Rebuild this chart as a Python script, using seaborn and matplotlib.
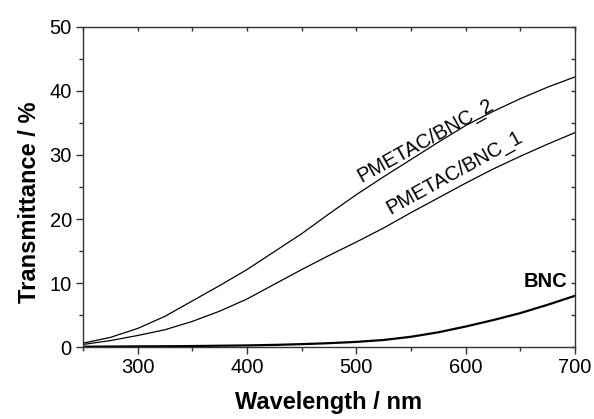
import numpy as np
import pandas as pd
import matplotlib
matplotlib.use("Agg")
import matplotlib.pyplot as plt
import seaborn as sns
from matplotlib.ticker import MultipleLocator

wavelength = [250, 275, 300, 325, 350, 375, 400, 425, 450, 475, 500,
              525, 550, 575, 600, 625, 650, 675, 700]
pmetac_bnc_2 = [0.6, 1.5, 2.9, 4.8, 7.2, 9.6, 12.1, 14.9, 17.7, 20.8, 23.8,
                26.6, 29.3, 32.0, 34.6, 36.8, 38.8, 40.6, 42.2]
pmetac_bnc_1 = [0.4, 1.0, 1.8, 2.7, 4.0, 5.6, 7.5, 9.8, 12.1, 14.3, 16.4,
                18.6, 21.0, 23.3, 25.6, 27.8, 29.8, 31.7, 33.5]
bnc = [0.05, 0.07, 0.1, 0.12, 0.15, 0.2, 0.25, 0.33, 0.45, 0.6, 0.8,
       1.1, 1.6, 2.3, 3.2, 4.2, 5.3, 6.6, 8.0]

sns.set_style("ticks")
plt.rcParams['font.family'] = ['Liberation Sans', 'DejaVu Sans']
plt.rcParams['text.color'] = 'black'
plt.rcParams['axes.labelcolor'] = 'black'
plt.rcParams['xtick.color'] = 'black'
plt.rcParams['ytick.color'] = 'black'

fig = plt.figure(figsize=(5.94, 4.19), dpi=100)
ax = fig.add_axes([0.1397, 0.1718, 0.968 - 0.1397, 0.9356 - 0.1718])

df = pd.DataFrame({"wl": wavelength, "s2": pmetac_bnc_2, "s1": pmetac_bnc_1, "bnc": bnc})
sns.lineplot(data=df, x="wl", y="s2", ax=ax, color="black", linewidth=0.9)
sns.lineplot(data=df, x="wl", y="s1", ax=ax, color="black", linewidth=0.9)
sns.lineplot(data=df, x="wl", y="bnc", ax=ax, color="black", linewidth=1.6)

ax.set_xlim(250, 700)
ax.set_ylim(0, 50)
ax.xaxis.set_major_locator(MultipleLocator(100))
ax.xaxis.set_minor_locator(MultipleLocator(50))
ax.yaxis.set_major_locator(MultipleLocator(10))
ax.yaxis.set_minor_locator(MultipleLocator(5))
ax.set_xticks([300, 400, 500, 600, 700])

for s in ax.spines.values():
    s.set_visible(True)
    s.set_linewidth(1.0)
    s.set_color("#333333")

ax.tick_params(which="major", direction="out", length=5, width=1, labelsize=14.5, colors="#333333", labelcolor="black", pad=3)
ax.tick_params(which="minor", direction="out", length=3, width=1, colors="#333333")

top = ax.secondary_xaxis("top")
top.xaxis.set_major_locator(MultipleLocator(50))
top.tick_params(direction="in", length=3, width=1, labeltop=False, colors="#333333")
right = ax.secondary_yaxis("right")
right.yaxis.set_major_locator(MultipleLocator(5))
right.tick_params(direction="in", length=3, width=1, labelright=False, colors="#333333")
for sp in top.spines.values():
    sp.set_visible(False)
for sp in right.spines.values():
    sp.set_visible(False)

ax.set_xlabel("Wavelength / nm", fontsize=17, fontweight="bold", labelpad=10)
ax.set_ylabel("Transmittance / %", fontsize=17, fontweight="bold", labelpad=6)
ax.yaxis.label.set_y(0.453)

ax.text(563, 32.3, "PMETAC/BNC_2", fontsize=14.5, rotation=29, ha="center", va="center", rotation_mode="anchor")
ax.text(590, 27.3, "PMETAC/BNC_1", fontsize=14.5, rotation=29, ha="center", va="center", rotation_mode="anchor")
ax.text(673, 10.2, "BNC", fontsize=14.5, fontweight="bold", ha="center", va="center")

fig.savefig("out.png", dpi=100)
